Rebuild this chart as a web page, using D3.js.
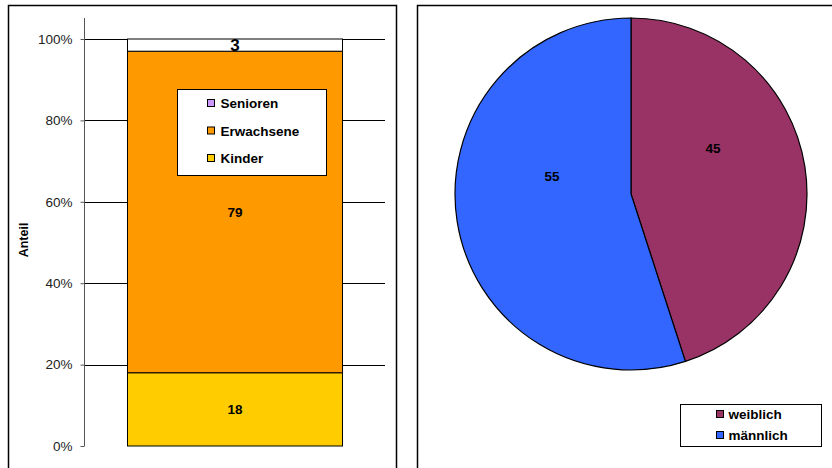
<!DOCTYPE html>
<html>
<head>
<meta charset="utf-8">
<script src="https://cdn.jsdelivr.net/npm/d3@7"></script>
<style>
  html, body { margin: 0; padding: 0; background: #fff; }
  svg { display: block; font-family: "Liberation Sans", Arial, sans-serif; }
</style>
</head>
<body>
<svg id="chart" width="832" height="468"></svg>
<script>
// Age groups (stacked bar, share in %)
const ageGroups = ["Kinder", "Erwachsene", "Senioren"];
const ageShares = [18, 79, 3];
const ageColors = ["#FFCC00", "#FF9900", "#CC99FF"];
const ageFills = ["#FFCC00", "#FF9900", "#FFFFFF"];
const yTicks = [0, 20, 40, 60, 80, 100];

// Gender split (pie)
const genders = ["weiblich", "männlich"];
const genderShares = [45, 55];
const genderColors = ["#993366", "#3366FF"];

const svg = d3.select("#chart");

// Panel frames
svg.append("rect").attr("x", 8.5).attr("y", 5.5).attr("width", 388).attr("height", 480)
  .attr("fill", "#fff").attr("stroke", "#000").attr("stroke-width", 1.5);
svg.append("rect").attr("x", 417.5).attr("y", 5.5).attr("width", 430).attr("height", 480)
  .attr("fill", "#fff").attr("stroke", "#000").attr("stroke-width", 1.5);

// ---------- Stacked bar ----------
const y = d3.scaleLinear().domain([0, 100]).range([446, 39]);
const x = d3.scaleBand().domain(["Anteil"]).range([84, 385]).paddingInner(0).paddingOuter(0.2);
const barX = Math.round(x("Anteil")) + 0.5, barW = Math.round(x.bandwidth());

// gridlines
svg.append("g").selectAll("line").data(yTicks.filter(t => t > 0)).join("line")
  .attr("x1", 84).attr("x2", 385)
  .attr("y1", d => Math.round(y(d)) + 0.5).attr("y2", d => Math.round(y(d)) + 0.5)
  .attr("stroke", "#000").attr("stroke-width", 1);

// axis
const axis = svg.append("g").attr("transform", "translate(84.5,0)")
  .call(d3.axisLeft(y).tickValues(yTicks).tickFormat(d => d + "%").tickSizeOuter(0).tickSize(4).tickPadding(8));
axis.select(".domain").attr("stroke", "#555").attr("d", `M0,18V${y(0)}`);
axis.selectAll(".tick line").attr("stroke", "#555");
axis.selectAll("text").attr("font-size", 13.5).attr("fill", "#222")
  .attr("font-family", "'Liberation Sans', Arial, sans-serif");

// stack segments
let acc = 0;
const segs = ageShares.map((v, i) => { const s = { name: ageGroups[i], v, y0: acc, y1: acc + v, fill: ageFills[i] }; acc += v; return s; });
svg.append("g").selectAll("rect").data(segs).join("rect")
  .attr("x", barX).attr("width", barW)
  .attr("y", d => y(d.y1)).attr("height", d => y(d.y0) - y(d.y1))
  .attr("fill", d => d.fill).attr("stroke", "#000").attr("stroke-width", 1);

svg.append("g").selectAll("text").data(segs).join("text")
  .attr("x", barX + barW / 2).attr("y", d => y((d.y0 + d.y1) / 2))
  .attr("dy", "0.36em").attr("text-anchor", "middle")
  .attr("font-size", d => d.v < 5 ? 17 : 13.5).attr("font-weight", "bold")
  .text(d => d.v);

// y title
svg.append("text").attr("transform", "translate(28,240) rotate(-90)")
  .attr("text-anchor", "middle").attr("font-size", 12.5).attr("font-weight", "bold").text("Anteil");

// legend (bar)
const lg1 = svg.append("g").attr("transform", "translate(177.5,89.5)");
lg1.append("rect").attr("width", 149).attr("height", 86).attr("fill", "#fff")
  .attr("stroke", "#000").attr("stroke-width", 1);
const lgOrder = [2, 1, 0];
lgOrder.forEach((k, i) => {
  const g = lg1.append("g").attr("transform", `translate(30,${14 + i * 27.5})`);
  g.append("rect").attr("x", 0).attr("y", -4).attr("width", 7).attr("height", 7)
    .attr("fill", ageColors[k]).attr("stroke", "#000").attr("stroke-width", 1);
  g.append("text").attr("x", 13).attr("dy", "0.36em").attr("font-size", 13.5)
    .attr("font-weight", "bold").text(ageGroups[k]);
});

// ---------- Pie ----------
const cx = 631, cy = 194, r = 176;
const pie = d3.pie().sort(null).value(d => d.v);
const pdata = pie(genders.map((g, i) => ({ name: g, v: genderShares[i], c: genderColors[i] })));
const arc = d3.arc().innerRadius(0).outerRadius(r);
const pg = svg.append("g").attr("transform", `translate(${cx},${cy})`);
pg.selectAll("path").data(pdata).join("path")
  .attr("d", arc).attr("fill", d => d.data.c).attr("stroke", "#000").attr("stroke-width", 1.2);
pg.selectAll("text").data(pdata).join("text")
  .attr("transform", d => { const [px, py] = arc.centroid(d); return `translate(${px - (d.index ? -8 : 5)},${py - 32})`; })
  .attr("dy", "0.36em").attr("text-anchor", "middle").attr("font-size", 13.5).attr("font-weight", "bold")
  .text(d => d.data.v);

// legend (pie)
const lg2 = svg.append("g").attr("transform", "translate(680.5,404.5)");
lg2.append("rect").attr("width", 141).attr("height", 42).attr("fill", "#fff")
  .attr("stroke", "#000").attr("stroke-width", 1);
genders.forEach((gname, i) => {
  const g = lg2.append("g").attr("transform", `translate(36,${10 + i * 21})`);
  g.append("rect").attr("x", 0).attr("y", -4).attr("width", 7).attr("height", 7)
    .attr("fill", genderColors[i]).attr("stroke", "#000").attr("stroke-width", 1);
  g.append("text").attr("x", 12).attr("dy", "0.36em").attr("font-size", 13.5)
    .attr("font-weight", "bold").text(gname);
});
</script>
</body>
</html>
